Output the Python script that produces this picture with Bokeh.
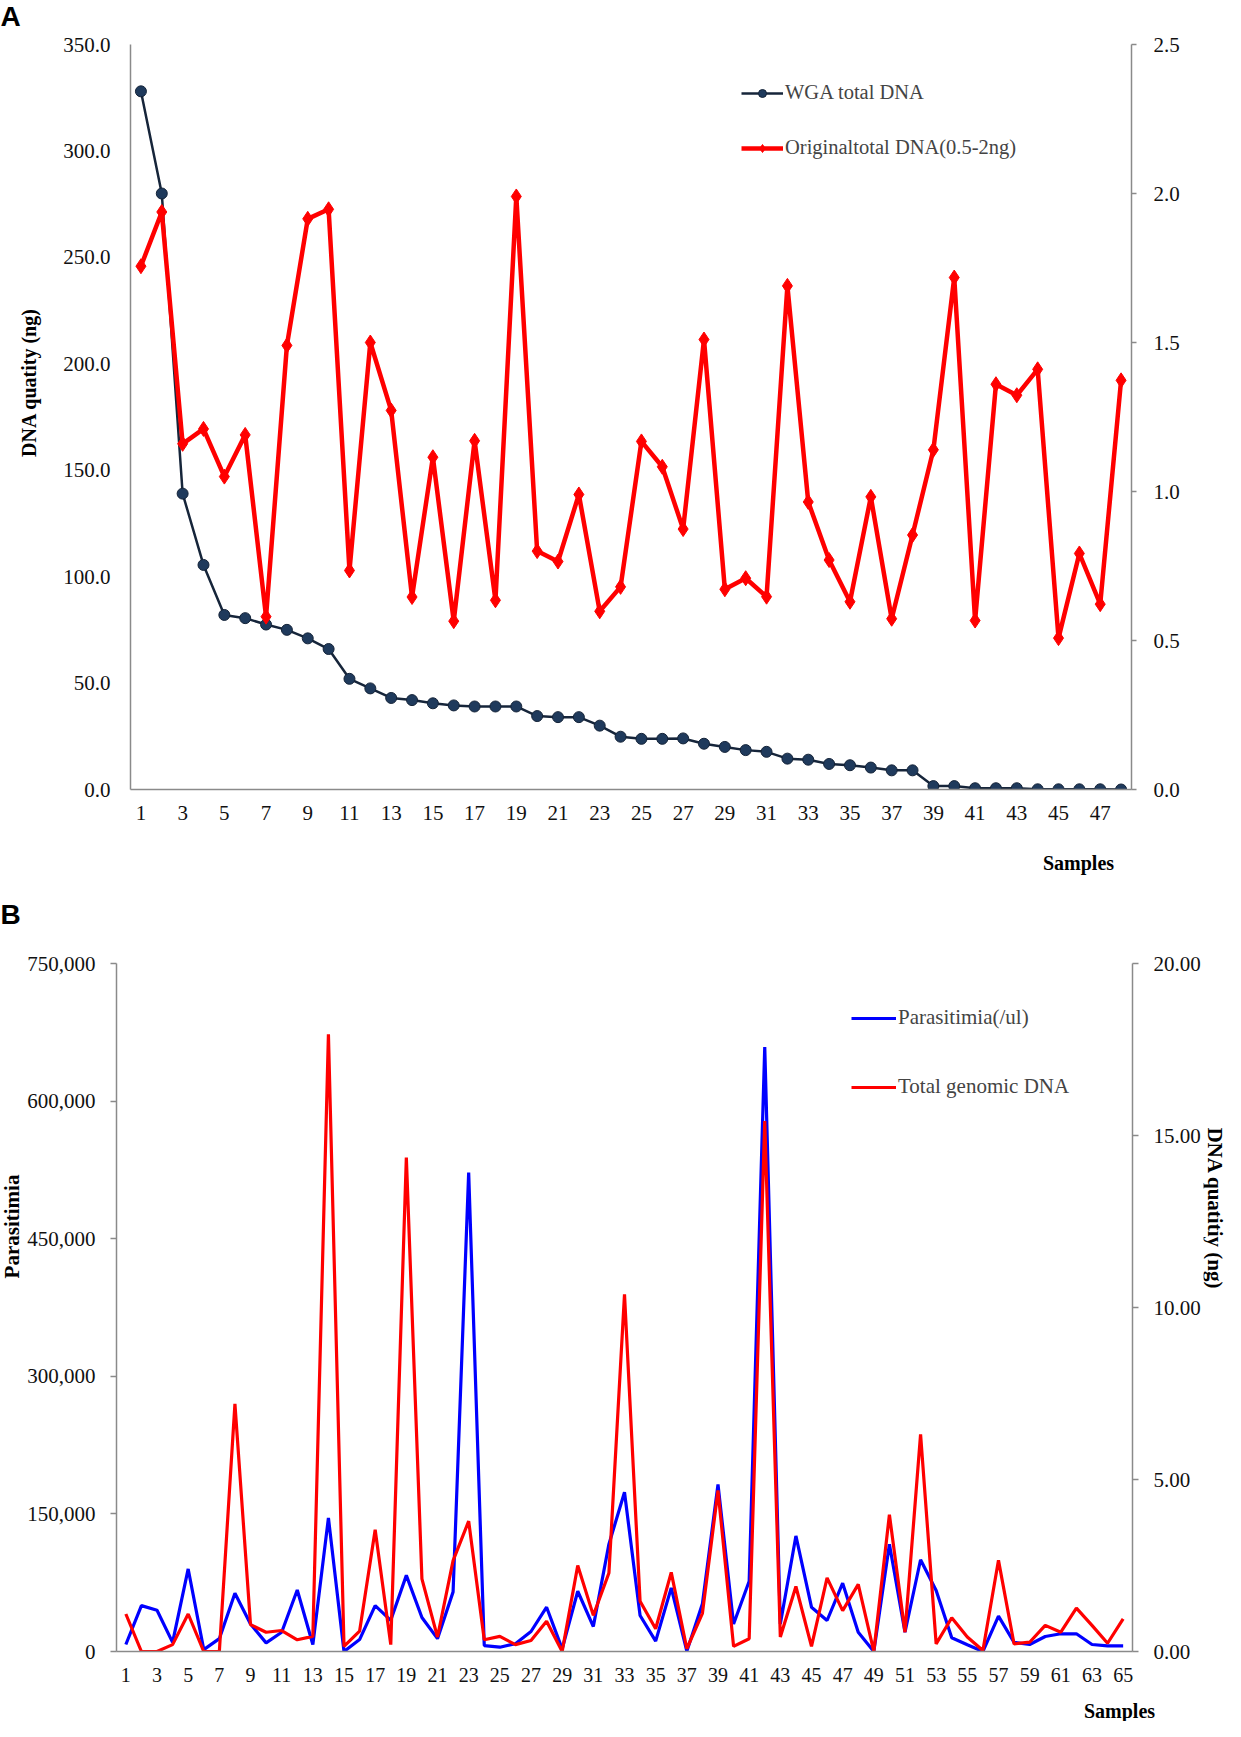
import math
from bokeh.plotting import figure
from bokeh.models import (Range1d, LinearAxis, FixedTicker, Legend, LegendItem,
                          NumeralTickFormatter, ColumnDataSource)
from bokeh.core.properties import value
from bokeh.layouts import column, row
from bokeh.embed import file_html
from bokeh.resources import INLINE

# ---------------- Panel A data ----------------
samples_a = list(range(1, 49))
wga_total_dna = [328, 280, 139, 105.5, 82, 80.5, 77.5, 75, 71, 66,
                 52, 47.5, 43, 42, 40.5, 39.5, 39, 39, 39, 34.5,
                 34, 34, 30, 24.8, 23.8, 23.8, 24, 21.5, 20, 18.5,
                 17.7, 14.5, 14, 12, 11.4, 10.3, 9, 9, 1.6, 1.6,
                 0.6, 0.6, 0.6, 0.1, 0.1, 0.1, 0.1, 0.0]
original_total_dna = [1.756, 1.938, 1.16, 1.21, 1.05, 1.19, 0.58, 1.49, 1.915, 1.947,
                      0.735, 1.50, 1.272, 0.646, 1.115, 0.565, 1.17, 0.635, 1.99, 0.80,
                      0.765, 0.99, 0.598, 0.68, 1.168, 1.083, 0.874, 1.51, 0.672, 0.709,
                      0.647, 1.69, 0.965, 0.77, 0.63, 0.982, 0.573, 0.854, 1.14, 1.718,
                      0.567, 1.36, 1.323, 1.41, 0.508, 0.792, 0.622, 1.373]
a_left_ticks = [0, 50, 100, 150, 200, 250, 300, 350]
a_right_ticks = [0, 0.5, 1.0, 1.5, 2.0, 2.5]
a_x_ticks = list(range(1, 49, 2))

# ---------------- Panel B data ----------------
samples_b = list(range(1, 66))
parasitimia = [7600, 50000, 45000, 10000, 90000, 2000, 14000, 63500, 30000, 9400,
               21000, 67000, 7600, 145600, 0, 13000, 50000, 34000, 83000, 37000,
               14000, 65000, 522000, 6500, 4700, 8400, 21800, 48300, 2900, 65700,
               27200, 117000, 173600, 39200, 11300, 69400, 400, 52000, 182000, 30000,
               76600, 659000, 30000, 126000, 48300, 33800, 74500, 21000, 0, 117000,
               21000, 100000, 66500, 14900, 7300, 0, 38500, 10000, 7600, 16400,
               19300, 19300, 7600, 6200, 6200]
total_genomic_dna = [1.09, 0.0, 0.0, 0.2, 1.09, 0.0, 0.0, 7.2, 0.78, 0.56,
                     0.61, 0.34, 0.44, 17.94, 0.15, 0.59, 3.54, 0.2, 14.36, 2.11,
                     0.42, 2.64, 3.79, 0.34, 0.44, 0.2, 0.32, 0.88, 0.0, 2.5,
                     1.05, 2.28, 10.38, 1.46, 0.66, 2.3, 0.08, 1.11, 4.68, 0.15,
                     0.37, 15.42, 0.42, 1.89, 0.15, 2.14, 1.19, 1.95, 0.0, 3.98,
                     0.56, 6.31, 0.22, 0.98, 0.42, 0.03, 2.65, 0.22, 0.27, 0.76,
                     0.56, 1.26, 0.76, 0.24, 0.95]
b_left_ticks = [0, 150000, 300000, 450000, 600000, 750000]
b_right_ticks = [0, 5, 10, 15, 20]
b_x_ticks = list(range(1, 66, 2))

SERIF = "Liberation Serif"
AXIS_GRAY = "#8a8a8a"


def style_axis(ax, size, tick_out, standoff):
    ax.axis_line_color = AXIS_GRAY
    ax.axis_line_width = 1.5
    ax.major_tick_line_color = AXIS_GRAY if tick_out else None
    ax.major_tick_line_width = 1.5
    ax.major_tick_out = tick_out
    ax.major_tick_in = 0
    ax.minor_tick_line_color = None
    ax.major_label_text_font = SERIF
    ax.major_label_text_font_size = size
    ax.major_label_text_color = "#111111"
    ax.major_label_standoff = standoff


def blank(w, h, y0=None, y1=None):
    # y0/y1: page y of the (aligned) frame bottom/top; else plain pixel range
    yr = Range1d(0, h) if y0 is None else Range1d(y0, y1)
    f = figure(width=w, height=h, output_backend="svg", toolbar_location=None,
               x_range=Range1d(0, w), y_range=yr,
               x_axis_type=None, y_axis_type=None, min_border=0)
    f.outline_line_color = None
    for g in f.grid:
        g.visible = False
    return f


def put_text(f, txt, x, y, size, angle=0.0, bold=True, font=SERIF,
             align="center", baseline="middle"):
    f.text(x=[x], y=[y], text=[txt], angle=angle,
           text_font=value(font), text_font_size=value(size),
           text_font_style=value("bold" if bold else "normal"),
           text_align=value(align), text_baseline=value(baseline),
           text_color="#000000")


# ---- strip with panel letter A ----
TOP_H = 32
topA = blank(1225, TOP_H)
put_text(topA, "A", 0, TOP_H, "28px", font="Liberation Sans", align="left", baseline="top")

# ================= Row A (page y 32 .. 842) =================
HA = 842 - TOP_H
A_TOP, A_BOT = 44, 789
la = blank(60, HA, A_BOT, A_TOP)
put_text(la, "DNA quatity (ng)", 28, 382, "20px", angle=math.pi / 2)

pa = figure(width=1165, height=HA, output_backend="svg", toolbar_location=None,
            x_range=Range1d(0.5, 48.5), y_range=Range1d(0, 350),
            min_border_left=68, min_border_right=94,
            min_border_top=A_TOP - TOP_H, min_border_bottom=842 - A_BOT)
pa.extra_y_ranges = {"right": Range1d(0, 2.5)}
pa.outline_line_color = None
pa.xgrid.visible = False
pa.ygrid.visible = False

pa.yaxis.ticker = FixedTicker(ticks=a_left_ticks)
pa.yaxis.formatter = NumeralTickFormatter(format="0.0")
style_axis(pa.yaxis[0], "21px", 0, 20)
pa.xaxis.ticker = FixedTicker(ticks=a_x_ticks)
style_axis(pa.xaxis[0], "21px", 0, 16)

ra = LinearAxis(y_range_name="right", ticker=FixedTicker(ticks=a_right_ticks),
                formatter=NumeralTickFormatter(format="0.0"))
style_axis(ra, "21px", 5, 17)
pa.add_layout(ra, "right")

srcA = ColumnDataSource(dict(x=samples_a, wga=wga_total_dna, orig=original_total_dna))
wl = pa.line("x", "wga", source=srcA, line_color="#16253a", line_width=2.5)
ws = pa.scatter("x", "wga", source=srcA, marker="circle", size=11,
                fill_color="#1f3a5c", line_color="#142338", line_width=1)
ol = pa.line("x", "orig", source=srcA, y_range_name="right",
             line_color="#ff0000", line_width=4.5)
os_ = pa.scatter("x", "orig", source=srcA, y_range_name="right", marker="diamond",
                 size=15, fill_color="#ff0000", line_color="#ff0000")

legA = Legend(items=[LegendItem(label="WGA total DNA", renderers=[wl, ws]),
                     LegendItem(label="Originaltotal DNA(0.5-2ng)", renderers=[ol, os_])],
              location=(611, 630), glyph_width=42, glyph_height=20,
              label_height=20, spacing=32, padding=0, margin=0, label_standoff=2,
              label_text_font=SERIF, label_text_font_size="20.5px",
              background_fill_alpha=0, border_line_alpha=0)
pa.add_layout(legA)

# ---- strip: "Samples" of A and panel letter B (page y 842 .. 932) ----
MID_H = 90
mid = blank(1225, MID_H)
put_text(mid, "Samples", 1078, MID_H - (862 - 842), "20px")
put_text(mid, "B", 0, MID_H - (898 - 842), "28px", font="Liberation Sans",
         align="left", baseline="top")

# ================= Row B (page y 932 .. 1696) =================
B_START = 842 + MID_H
HB = 1696 - B_START
B_TOP, B_BOT = 963, 1651
lb = blank(22, HB, B_BOT, B_TOP)
put_text(lb, "Parasitimia", 11, 1226, "21px", angle=math.pi / 2)

pb = figure(width=1181, height=HB, output_backend="svg", toolbar_location=None,
            x_range=Range1d(0.4, 65.6), y_range=Range1d(0, 750000),
            min_border_left=94, min_border_right=68,
            min_border_top=B_TOP - B_START, min_border_bottom=1696 - B_BOT)
pb.extra_y_ranges = {"right": Range1d(0, 20)}
pb.outline_line_color = None
pb.xgrid.visible = False
pb.ygrid.visible = False

pb.yaxis.ticker = FixedTicker(ticks=b_left_ticks)
pb.yaxis.formatter = NumeralTickFormatter(format="0,0")
style_axis(pb.yaxis[0], "21px", 6, 15)
pb.xaxis.ticker = FixedTicker(ticks=b_x_ticks)
style_axis(pb.xaxis[0], "20px", 0, 16)

rbx = LinearAxis(y_range_name="right", ticker=FixedTicker(ticks=b_right_ticks),
                 formatter=NumeralTickFormatter(format="0.00"))
style_axis(rbx, "21px", 6, 15)
pb.add_layout(rbx, "right")

srcB = ColumnDataSource(dict(x=samples_b, par=parasitimia, dna=total_genomic_dna))
bl = pb.line("x", "par", source=srcB, line_color="#0000ff", line_width=3.2)
rl = pb.line("x", "dna", source=srcB, y_range_name="right",
             line_color="#ff0000", line_width=3.2)

legB = Legend(items=[LegendItem(label="Parasitimia(/ul)", renderers=[bl]),
                     LegendItem(label="Total genomic DNA", renderers=[rl])],
              location=(735, 552), glyph_width=45, glyph_height=20,
              label_height=20, spacing=44, padding=0, margin=0, label_standoff=2,
              label_text_font=SERIF, label_text_font_size="21px",
              background_fill_alpha=0, border_line_alpha=0)
pb.add_layout(legB)

rb = blank(22, HB, B_BOT, B_TOP)
put_text(rb, "DNA quatitiy (ng)", 11, 1208, "21px", angle=-math.pi / 2)

# ---- strip with "Samples" under panel B ----
SB_H = 25
sb = blank(1225, SB_H)
put_text(sb, "Samples", 1119, SB_H - 14, "20px")

layout = column(topA, row(la, pa, spacing=0), mid, row(lb, pb, rb, spacing=0), sb,
                spacing=0)
open("out.html", "w").write(file_html(layout, INLINE))
